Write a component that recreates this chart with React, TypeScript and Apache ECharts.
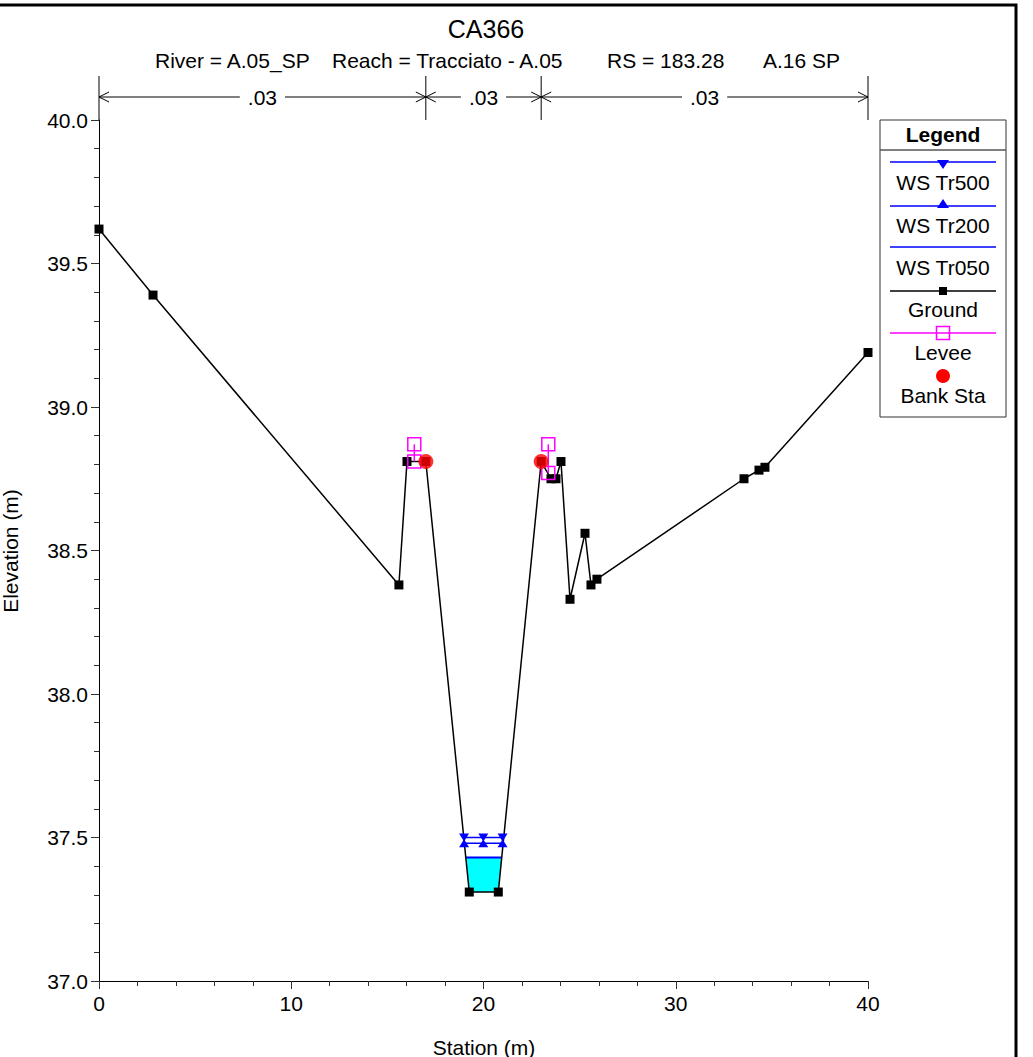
import React, { useEffect, useRef } from "react";
import * as echarts from "echarts";

// Ground profile
const groundStations = [0, 2.81, 15.6, 16.02, 17.0, 19.26, 20.77, 23.0, 23.51, 23.77, 24.03, 24.5, 25.28, 25.59, 25.9, 33.55, 34.33, 34.64, 40];
const groundElev = [39.62, 39.39, 38.38, 38.81, 38.81, 37.31, 37.31, 38.81, 38.75, 38.75, 38.81, 38.33, 38.56, 38.38, 38.40, 38.75, 38.78, 38.79, 39.19];

// Levees (top and base at ground)
const leveeStations = [16.4, 23.37];
const leveeTop = [38.87, 38.87];
const leveeBase = [38.81, 38.77];

// Bank stations
const bankStations = [17.0, 23.0];
const bankElev = [38.81, 38.81];

// Water surfaces
const wsStations = [18.99, 19.99, 20.99];
const wsTr500 = 37.50;
const wsTr200 = 37.48;
const tr050Stations = [19.08, 20.95];
const wsTr050 = 37.43;
const fillStations = [19.08, 19.26, 20.77, 20.95];
const fillElev = [37.43, 37.31, 37.31, 37.43];

// Manning's n
const nStations = [0, 17.0, 23.0, 40];
const nValues = [".03", ".03", ".03"];

const legendItems = ["WS Tr500", "WS Tr200", "WS Tr050", "Ground", "Levee", "Bank Sta"];

const FONT = "'Liberation Sans', Arial, Helvetica, sans-serif";

export default function App() {
  const ref = useRef<HTMLDivElement>(null);
  useEffect(() => {
    const chart = echarts.init(ref.current!, undefined, { renderer: "svg" });
    const axisCommon = {
      type: "value",
      axisLine: { show: true, onZero: false, lineStyle: { color: "#000", width: 1 } },
      axisTick: { show: true, length: 8, lineStyle: { color: "#333", width: 1 } },
      minorTick: { show: true, splitNumber: 5, length: 5, lineStyle: { color: "#333", width: 1 } },
      splitLine: { show: false },
      minorSplitLine: { show: false },
    };
    chart.setOption({
      animation: false,
      backgroundColor: "#fff",
      grid: { left: 99, right: 165, top: 120, bottom: 76, containLabel: false, outerBoundsMode: "none" },
      xAxis: {
        ...axisCommon,
        min: 0,
        max: 40,
        interval: 10,
        axisLabel: { color: "#000", fontSize: 21, fontFamily: FONT, margin: 12 },
      },
      yAxis: {
        ...axisCommon,
        min: 37,
        max: 40,
        interval: 0.5,
        axisLabel: {
          color: "#000",
          fontSize: 21,
          fontFamily: FONT,
          margin: 11,
          formatter: (v: number) => v.toFixed(1),
        },
      },
      series: [
        {
          type: "custom",
          z: 1,
          silent: true,
          data: [[fillStations[0], fillElev[0]]],
          encode: { x: 0, y: 1 },
          renderItem: (_p: any, api: any) => ({
            type: "polygon",
            shape: { points: fillStations.map((s, i) => api.coord([s, fillElev[i]])) },
            style: { fill: "#00ffff", stroke: "none" },
          }),
        },
        {
          type: "line",
          name: "WS Tr050",
          z: 3,
          clip: false,
          data: tr050Stations.map((s) => [s, wsTr050]),
          showSymbol: false,
          lineStyle: { color: "#0000ff", width: 2 },
        },
        {
          type: "line",
          name: "Ground",
          z: 4,
          clip: false,
          data: groundStations.map((s, i) => [s, groundElev[i]]),
          symbol: "rect",
          symbolSize: 9,
          showSymbol: true,
          lineStyle: { color: "#000", width: 1.5 },
          itemStyle: { color: "#000" },
        },
        ...leveeStations.map((s, i) => ({
          type: "line",
          name: "Levee",
          z: 5,
          clip: false,
          data: [
            [s, leveeTop[i]],
            [s, leveeBase[i]],
          ],
          symbol: "rect",
          symbolSize: 13,
          showSymbol: true,
          lineStyle: { color: "#ff00ff", width: 1.5 },
          itemStyle: { color: "rgba(0,0,0,0)", borderColor: "#ff00ff", borderWidth: 1.5 },
        })),
        {
          type: "scatter",
          name: "Bank Sta",
          z: 6,
          data: bankStations.map((s, i) => [s, bankElev[i]]),
          symbol: "circle",
          symbolSize: 15,
          itemStyle: { color: "#ff0000" },
        },
        {
          type: "line",
          name: "WS Tr200",
          z: 7,
          clip: false,
          data: wsStations.map((s) => [s, wsTr200]),
          symbol: "triangle",
          symbolSize: [10, 8],
          showSymbol: true,
          lineStyle: { color: "#0000ff", width: 1.5 },
          itemStyle: { color: "#0000ff" },
        },
        {
          type: "line",
          name: "WS Tr500",
          z: 7,
          clip: false,
          data: wsStations.map((s) => [s, wsTr500]),
          symbol: "triangle",
          symbolRotate: 180,
          symbolSize: [10, 8],
          showSymbol: true,
          lineStyle: { color: "#0000ff", width: 1.5 },
          itemStyle: { color: "#0000ff" },
        },
      ],
    });

    // Annotations
    const xs = nStations.map((s) => chart.convertToPixel({ xAxisIndex: 0 }, s) as number);
    const yTop = chart.convertToPixel({ yAxisIndex: 0 }, 40) as number;
    const arrowY = 97;
    const g: any[] = [];
    xs.forEach((x) => {
      g.push({ type: "line", shape: { x1: x, y1: 76, x2: x, y2: yTop }, style: { stroke: "#000", lineWidth: 1 } });
    });
    const aL = 10,
      aW = 5;
    for (let i = 0; i < nValues.length; i++) {
      const x1 = xs[i],
        x2 = xs[i + 1];
      const mid = (x1 + x2) / 2;
      g.push({ type: "line", shape: { x1, y1: arrowY, x2, y2: arrowY }, style: { stroke: "#000", lineWidth: 1 } });
      g.push({ type: "polyline", shape: { points: [[x1 + aL, arrowY - aW], [x1, arrowY], [x1 + aL, arrowY + aW]] }, style: { stroke: "#000", lineWidth: 1, fill: "none" } });
      g.push({ type: "polyline", shape: { points: [[x2 - aL, arrowY - aW], [x2, arrowY], [x2 - aL, arrowY + aW]] }, style: { stroke: "#000", lineWidth: 1, fill: "none" } });
      g.push({
        type: "text",
        x: mid,
        y: arrowY,
        z: 10,
        style: {
          text: nValues[i],
          fontSize: 21,
          fontFamily: FONT,
          fill: "#000",
          align: "center",
          verticalAlign: "middle",
          backgroundColor: "#fff",
          padding: [0, 8],
        },
      });
    }

    // Title & subtitle
    g.push({ type: "text", x: 486, y: 29, style: { text: "CA366", fontSize: 25, fontFamily: FONT, fill: "#000", align: "center", verticalAlign: "middle" } });
    const subs = [
      ["River = A.05_SP", 155],
      ["Reach = Tracciato - A.05", 332],
      ["RS = 183.28", 607],
      ["A.16 SP", 763],
    ];
    subs.forEach(([t, x]) => {
      g.push({ type: "text", x, y: 60, style: { text: t, fontSize: 21, fontFamily: FONT, fill: "#000", align: "left", verticalAlign: "middle" } });
    });

    // Axis titles
    g.push({ type: "text", x: 484, y: 1047, style: { text: "Station (m)", fontSize: 21, fontFamily: FONT, fill: "#000", align: "center", verticalAlign: "middle" } });
    g.push({ type: "text", x: 10, y: 551, rotation: Math.PI / 2, style: { text: "Elevation (m)", fontSize: 21, fontFamily: FONT, fill: "#000", align: "center", verticalAlign: "middle" } });

    // Legend
    const lx1 = 880,
      lx2 = 1006,
      ly1 = 120,
      ly2 = 417;
    const lc = (lx1 + lx2) / 2;
    const s1 = 890,
      s2 = 996;
    g.push({ type: "rect", shape: { x: lx1, y: ly1, width: lx2 - lx1, height: ly2 - ly1 }, style: { fill: "#fff", stroke: "#333", lineWidth: 1 }, z: 20 });
    g.push({ type: "line", shape: { x1: lx1, y1: 150, x2: lx2, y2: 150 }, style: { stroke: "#555", lineWidth: 1.5 }, z: 21 });
    g.push({ type: "text", x: lc, y: 134, z: 21, style: { text: "Legend", fontSize: 21, fontWeight: "bold", fontFamily: FONT, fill: "#000", align: "center", verticalAlign: "middle" } });
    const lineYs = [162, 206, 247, 291, 333, 376];
    const textYs = [182, 225, 267, 309, 352, 395];
    legendItems.forEach((name, i) => {
      const y = lineYs[i];
      if (i < 3) {
        g.push({ type: "line", z: 21, shape: { x1: s1, y1: y, x2: s2, y2: y }, style: { stroke: "#0000ff", lineWidth: 1.5 } });
        if (i === 0) g.push({ type: "polygon", z: 22, shape: { points: [[lc - 6, y - 2], [lc + 6, y - 2], [lc, y + 7]] }, style: { fill: "#0000ff" } });
        if (i === 1) g.push({ type: "polygon", z: 22, shape: { points: [[lc - 6, y + 2], [lc + 6, y + 2], [lc, y - 7]] }, style: { fill: "#0000ff" } });
      } else if (i === 3) {
        g.push({ type: "line", z: 21, shape: { x1: s1, y1: y, x2: s2, y2: y }, style: { stroke: "#000", lineWidth: 1.5 } });
        g.push({ type: "rect", z: 22, shape: { x: lc - 4, y: y - 4, width: 8, height: 8 }, style: { fill: "#000" } });
      } else if (i === 4) {
        g.push({ type: "line", z: 21, shape: { x1: s1, y1: y, x2: s2, y2: y }, style: { stroke: "#ff00ff", lineWidth: 1.5 } });
        g.push({ type: "rect", z: 22, shape: { x: lc - 6.5, y: y - 6.5, width: 13, height: 13 }, style: { fill: "none", stroke: "#ff00ff", lineWidth: 1.5 } });
      } else {
        g.push({ type: "circle", z: 22, shape: { cx: lc, cy: y, r: 7 }, style: { fill: "#ff0000" } });
      }
      g.push({ type: "text", x: lc, y: textYs[i], z: 22, style: { text: name, fontSize: 21, fontFamily: FONT, fill: "#000", align: "center", verticalAlign: "middle" } });
    });

    // Outer frame
    g.push({ type: "rect", z: 30, shape: { x: -10, y: 5, width: 1026, height: 1080 }, style: { fill: "none", stroke: "#000", lineWidth: 3 } });

    chart.setOption({ graphic: g });
    return () => chart.dispose();
  }, []);
  return <div ref={ref} style={{ position: "fixed", left: 0, top: 0, width: 1033, height: 1057 }} />;
}
